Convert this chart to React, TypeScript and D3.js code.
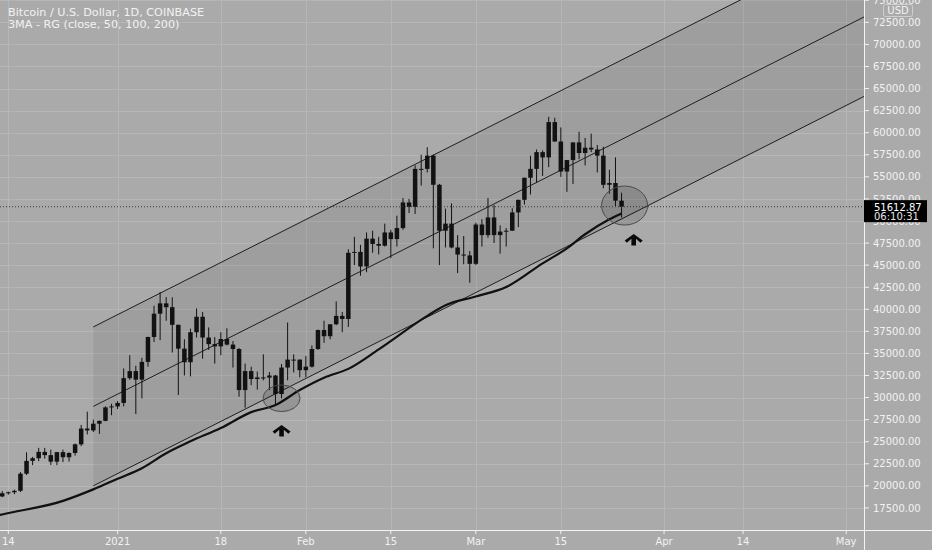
import React from "react";
import * as d3 from "d3";

// ---------- DATA ----------
const START_DATE = "2020-12-13"; // first candle, one candle per day

const opens = [
  18800, 19165, 19274, 19439, 21380, 22830, 23130, 23850, 23480, 22740, 23820, 23240, 23720, 24700, 26490, 26280, 27040, 27360, 28890,
  29000, 29390, 32200, 33000, 32030, 34040, 36860, 39500, 40670, 40240, 38240, 35540, 34000, 37400, 39150, 36800, 36050, 35800, 36630, 36000, 35500, 30850, 33000, 32100, 32280, 32260, 32500, 30400, 33400, 34300, 34300,
  33100, 33500, 35500, 37650, 36950, 38300, 39250, 38900, 46400, 46500, 44850, 48000, 47400, 47200, 48700, 47950, 49200, 52100, 51600, 55900, 55900, 57400, 54100, 48900, 49700, 47000, 46200, 46100,
  45150, 49600, 48400, 50400, 48400, 48800, 48900, 50970, 52400, 54900, 55900, 57800, 57200, 61200, 59000, 55600, 56900, 58900, 57700, 58300, 58100, 57400, 54100, 54300, 52300,
];
const highs = [
  19411, 19340, 19570, 21560, 23800, 23280, 24300, 24300, 24100, 23840, 24100, 23800, 24800, 26900, 28400, 27500, 27400, 29000, 29300,
  29600, 33300, 34800, 33600, 34500, 36900, 40400, 41950, 41380, 41350, 38260, 36600, 37800, 40100, 39700, 37950, 36850, 37400, 37850, 36400, 35600, 33850, 33500, 32950, 34900, 32900, 32550, 33800, 38500, 34900, 34300,
  34700, 35900, 37700, 38700, 38300, 40900, 39700, 46800, 48200, 47300, 48700, 48900, 48200, 49700, 49000, 50600, 52600, 52500, 56300, 57500, 58350, 57500, 54200, 51400, 52000, 48400, 48300, 46600,
  49800, 50200, 52600, 51800, 49500, 49200, 51450, 52400, 54900, 57400, 58100, 58000, 61800, 61700, 60600, 56900, 58900, 60100, 59400, 59900, 58600, 58400, 55800, 57200, 53200,
];
const lows = [
  18711, 19000, 19055, 19300, 21230, 22350, 22800, 23080, 22370, 22350, 22700, 22750, 23420, 24500, 25820, 26100, 25880, 27320, 28000,
  28700, 29000, 32000, 28130, 29900, 33500, 36300, 36500, 38700, 35100, 30300, 32500, 32400, 36800, 34400, 35400, 33850, 34800, 35900, 33400, 30100, 28850, 31400, 30900, 31950, 30850, 29240, 29900, 31950, 32850, 32300,
  32300, 33400, 35400, 36200, 36600, 38200, 37400, 38000, 45000, 43800, 44200, 46400, 46200, 47100, 45800, 47100, 49000, 50900, 50800, 54000, 55500, 46900, 45000, 47000, 46900, 44100, 45100, 43000,
  45000, 47100, 48100, 47500, 46300, 47100, 48900, 49300, 51850, 53000, 54300, 55100, 56100, 59000, 55000, 53300, 54200, 57000, 56300, 57800, 55500, 53700, 53100, 51700, 50400,
];
const closes = [
  19165, 19274, 19439, 21380, 22830, 23130, 23850, 23480, 22740, 23820, 23240, 23720, 24700, 26490, 26280, 27040, 27360, 28890, 29000,
  29390, 32200, 33000, 32030, 34040, 36860, 39500, 40670, 40240, 38240, 35540, 34000, 37400, 39150, 36800, 36050, 35800, 36630, 36000, 35500, 30850, 33000, 32100, 32280, 32260, 32500, 30400, 33400, 34300, 34300, 33100,
  33500, 35500, 37650, 36950, 38300, 39250, 38900, 46400, 46500, 44850, 48000, 47400, 47200, 48700, 47950, 49200, 52100, 51600, 55900, 55900, 57400, 54100, 48900, 49700, 47000, 46200, 46100, 45150,
  49600, 48400, 50400, 48400, 48800, 48900, 50970, 52400, 54900, 55900, 57800, 57200, 61200, 59000, 55600, 56900, 58900, 57700, 58300, 58100, 57400, 54100, 54300, 52300, 51612.87,
];

// 50-period moving average
const maDates = [
  "2020-12-12", "2020-12-13", "2020-12-23", "2020-12-28", "2021-01-01", "2021-01-05", "2021-01-09", "2021-01-13",
  "2021-01-18", "2021-01-23", "2021-01-27", "2021-01-31", "2021-02-04", "2021-02-08", "2021-02-13", "2021-02-21",
  "2021-02-24", "2021-03-01", "2021-03-06", "2021-03-12", "2021-03-16", "2021-03-19", "2021-03-23", "2021-03-25",
];
const maValues = [
  16600, 16760, 18300, 19600, 20800, 22000, 23700, 25050,
  26550, 28350, 29150, 30850, 32250, 33250, 35450, 39250,
  40450, 41450, 42520, 45200, 46900, 48500, 50200, 50860,
];

// Parallel channel (two anchor points each)
const channelDates = ["2020-12-28", "2021-05-05"];
const channelUpper = [38000, 82480];
const channelMiddle = [29000, 73480];
const channelLower = [20000, 64480];

// Annotations
const ellipseDates = ["2021-01-28", "2021-03-25T12:00:00Z"];
const ellipseValues = [29920, 51750];
const ellipseRx = [18.5, 23];
const ellipseRy = [13.3, 19.5];
const arrowDates = ["2021-01-28", "2021-03-27"];
const arrowValues = [26900, 48530];

// Axis ticks
const xTickDates = ["2020-12-14", "2021-01-01", "2021-01-18", "2021-02-01", "2021-02-15", "2021-03-01", "2021-03-15", "2021-04-01", "2021-04-14", "2021-05-01"];
const xTickLabels = ["14", "2021", "18", "Feb", "15", "Mar", "15", "Apr", "14", "May"];
const yTickValues = [17500, 20000, 22500, 25000, 27500, 30000, 32500, 35000, 37500, 40000, 42500, 45000, 47500, 50000, 52500, 55000, 57500, 60000, 62500, 65000, 67500, 70000, 72500, 75000];

const TITLE = "Bitcoin / U.S. Dollar, 1D, COINBASE";
const SUBTITLE = "3MA - RG (close, 50, 100, 200)";
const COUNTDOWN = "06:10:31";

// ---------- LAYOUT ----------
const W = 932;
const H = 550;
const PR = 864; // plot right
const PB = 530; // plot bottom
const DAY = 86400000;
const FONT = "'DejaVu Sans', sans-serif";

const toDate = (s: string) => new Date(s.length > 10 ? s : s + "T00:00:00Z");

export default function App() {
  const ref0 = toDate("2020-12-14").getTime();
  const x = d3
    .scaleUtc()
    .domain([new Date(ref0 - 1.37 * DAY), new Date(ref0 + 140.93 * DAY)])
    .range([0, PR]);
  const y = d3.scaleLinear().domain([15000, 75030]).range([PB, 0]);

  const start = toDate(START_DATE).getTime();
  const candles = closes.map((c, i) => ({
    date: new Date(start + i * DAY),
    o: opens[i],
    h: highs[i],
    l: lows[i],
    c,
  }));
  const bw = 4.5;

  const ma = maDates.map((d, i) => ({ date: toDate(d), v: maValues[i] }));
  const maLine = d3
    .line<{ date: Date; v: number }>()
    .x((d) => x(d.date))
    .y((d) => y(d.v))
    .curve(d3.curveMonotoneX);

  const cd = channelDates.map(toDate);
  const chLine = (vals: number[]) =>
    `M${x(cd[0])},${y(vals[0])}L${x(cd[1])},${y(vals[1])}`;
  const chFill = `M${x(cd[0])},${y(channelUpper[0])}L${x(cd[1])},${y(channelUpper[1])}L${x(cd[1])},${y(channelLower[1])}L${x(cd[0])},${y(channelLower[0])}Z`;

  const last = closes[closes.length - 1];
  const py = y(last);

  const arrowPath = (cx: number, top: number) => {
    const pts: [number, number][] = [
      [0, 0], [9, 6.5], [6.8, 8.8], [2.3, 4.8], [2.3, 11.5], [-2.3, 11.5], [-2.3, 4.8], [-6.8, 8.8], [-9, 6.5],
    ];
    return "M" + pts.map(([a, b]) => `${cx + a},${top + b}`).join("L") + "Z";
  };

  const bg = "#aaaaaa";
  const grid = "#b6b6b6";
  const txt = "#f2f2f2";

  return (
    <div style={{ position: "absolute", left: 0, top: 0 }}>
      <svg width={W} height={H} style={{ display: "block" }}>
        <defs>
          <clipPath id="plot">
            <rect x={0} y={0} width={PR} height={PB} />
          </clipPath>
        </defs>
        <rect x={0} y={0} width={W} height={H} fill={bg} />

        {/* grid */}
        <g stroke={grid} strokeWidth={1}>
          {xTickDates.map((d) => {
            const xx = Math.round(x(toDate(d))) + 0.5;
            return <line key={d} x1={xx} x2={xx} y1={0} y2={PB} />;
          })}
          {yTickValues.map((v) => {
            const yy = Math.round(y(v)) + 0.5;
            return <line key={v} x1={0} x2={PR} y1={yy} y2={yy} />;
          })}
        </g>

        <g clipPath="url(#plot)">
          {/* channel */}
          <path d={chFill} fill="rgba(0,0,0,0.065)" />
          <g stroke="#1e1e1e" strokeWidth={1} fill="none">
            <path d={chLine(channelUpper)} />
            <path d={chLine(channelMiddle)} />
            <path d={chLine(channelLower)} />
          </g>

          {/* candles */}
          <g fill="#121212" stroke="#121212">
            {candles.map((k, i) => {
              const cx = x(k.date);
              const top = y(Math.max(k.o, k.c));
              const bot = y(Math.min(k.o, k.c));
              return (
                <g key={i}>
                  <line x1={cx} x2={cx} y1={y(k.h)} y2={y(k.l)} strokeWidth={1} />
                  <rect x={cx - bw / 2} y={top} width={bw} height={Math.max(1, bot - top)} stroke="none" />
                </g>
              );
            })}
          </g>

          {/* moving average */}
          <path d={maLine(ma) || ""} fill="none" stroke="#111111" strokeWidth={2.2} />

          {/* last price dotted line */}
          <line x1={0} x2={PR} y1={py} y2={py} stroke="#3a3a3a" strokeWidth={1} strokeDasharray="1 2" />

          {/* annotations */}
          {ellipseDates.map((d, i) => (
            <ellipse
              key={d}
              cx={x(toDate(d))}
              cy={y(ellipseValues[i])}
              rx={ellipseRx[i]}
              ry={ellipseRy[i]}
              fill="rgba(0,0,0,0.12)"
              stroke="#4a4a4a"
              strokeWidth={1}
            />
          ))}
          {arrowDates.map((d, i) => (
            <path key={d} d={arrowPath(x(toDate(d)), y(arrowValues[i]))} fill="#0a0a0a" />
          ))}
        </g>

        {/* axis borders */}
        <line x1={PR + 0.5} x2={PR + 0.5} y1={0} y2={H} stroke="#f4f4f4" strokeWidth={1} />
        <line x1={0} x2={W} y1={PB + 0.5} y2={PB + 0.5} stroke="#f4f4f4" strokeWidth={1} />

        {/* y axis */}
        <g fontFamily={FONT} fontSize={10} fill={txt}>
          {yTickValues.map((v) => {
            const yy = y(v);
            return (
              <g key={v}>
                <line x1={PR} x2={PR + 5} y1={yy} y2={yy} stroke={txt} strokeWidth={1} />
                <text x={873} y={yy} dy="0.36em">
                  {v.toFixed(2)}
                </text>
              </g>
            );
          })}
        </g>

        {/* x axis */}
        <g fontFamily={FONT} fontSize={10} fill={txt} textAnchor="middle">
          {xTickDates.map((d, i) => {
            const xx = x(toDate(d));
            return (
              <g key={d}>
                <line x1={xx} x2={xx} y1={PB} y2={PB + 4} stroke={txt} strokeWidth={1} />
                <text x={xx} y={544.5}>
                  {xTickLabels[i]}
                </text>
              </g>
            );
          })}
        </g>

        {/* USD badge */}
        <rect x={883.5} y={4.5} width={29} height={12} rx={2} fill={bg} stroke="#cfcfcf" strokeWidth={1} />
        <text x={898} y={14} fontFamily={FONT} fontSize={10} fill={txt} textAnchor="middle">
          USD
        </text>

        {/* last price badge */}
        <rect x={PR} y={py - 6.6} width={63} height={22} fill="#000000" />
        <text x={874} y={py + 3.8} fontFamily={FONT} fontSize={10} fill="#ffffff">
          {last.toFixed(2)}
        </text>
        <text x={874} y={py + 13.6} fontFamily={FONT} fontSize={10} fill="#e6e6e6">
          {COUNTDOWN}
        </text>

        {/* titles */}
        <text x={8} y={15.5} fontFamily={FONT} fontSize={11.2} fill={txt}>
          {TITLE}
        </text>
        <text x={8} y={27.5} fontFamily={FONT} fontSize={11.2} fill={txt}>
          {SUBTITLE}
        </text>
      </svg>
    </div>
  );
}
